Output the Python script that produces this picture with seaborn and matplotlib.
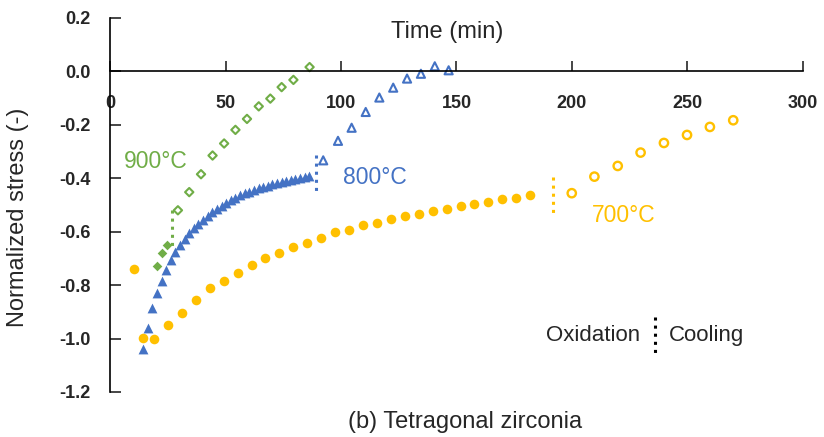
import numpy as np
import pandas as pd
import matplotlib
matplotlib.use('Agg')
import matplotlib.pyplot as plt
import seaborn as sns

### colours (Excel palette)
green = '#70AD47'
blue = '#4472C4'
yellow = '#FFC000'

### 900C series: oxidation (filled) and cooling (open)
t900_ox = [20.5, 22.4, 24.5]
s900_ox = [-0.728, -0.679, -0.649]
t900_cool = [29.4, 34.3, 39.4, 44.4, 49.4, 54.3, 59.3, 64.4, 69.4, 74.3, 79.4, 86.4]
s900_cool = [-0.520, -0.452, -0.385, -0.315, -0.270, -0.219, -0.178, -0.131, -0.102, -0.059, -0.032, 0.016]

### 800C series
t800_ox = [14.3, 16.3, 18.3, 20.3, 22.3, 24.3, 26.3, 28.3, 30.3, 32.3, 34.3, 36.3, 38.3,
           40.3, 42.3, 44.3, 46.3, 48.3, 50.3, 52.3, 54.3, 56.3, 58.3, 60.3, 62.3, 64.3,
           66.3, 68.3, 70.3, 72.3, 74.3, 76.3, 78.3, 80.3, 82.3, 84.3, 86.3]
s800_ox = [-1.040, -0.960, -0.885, -0.830, -0.785, -0.742, -0.707, -0.677, -0.650, -0.627,
           -0.606, -0.588, -0.570, -0.555, -0.540, -0.527, -0.515, -0.503, -0.492, -0.482,
           -0.473, -0.464, -0.457, -0.450, -0.444, -0.438, -0.433, -0.428, -0.423, -0.418,
           -0.414, -0.410, -0.406, -0.402, -0.398, -0.394, -0.390]
t800_cool = [92.3, 98.7, 104.6, 110.7, 116.6, 122.6, 128.6, 134.6, 140.6, 146.6]
s800_cool = [-0.333, -0.260, -0.211, -0.152, -0.098, -0.061, -0.027, -0.009, 0.019, 0.004]

### 700C series
t700_ox = [10.2, 14.3, 19.2, 25.3, 31.2, 37.2, 43.1, 49.2, 55.3, 61.3, 67.2, 73.3, 79.4,
           85.4, 91.5, 97.5, 103.5, 109.5, 115.6, 121.6, 127.6, 133.6, 139.7, 145.8,
           151.8, 157.7, 163.8, 169.7, 175.8, 181.7]
s700_ox = [-0.740, -0.998, -1.000, -0.948, -0.905, -0.855, -0.812, -0.783, -0.755, -0.725,
           -0.700, -0.680, -0.658, -0.643, -0.622, -0.603, -0.592, -0.576, -0.569, -0.552,
           -0.542, -0.535, -0.522, -0.517, -0.505, -0.498, -0.490, -0.477, -0.475, -0.461]
t700_cool = [199.9, 209.7, 219.8, 229.7, 239.8, 249.8, 259.7, 269.8]
s700_cool = [-0.456, -0.394, -0.354, -0.304, -0.268, -0.238, -0.208, -0.183]

### oxidation/cooling separators (time, stress from, stress to)
cut900 = [26.7, -0.520, -0.654]
cut800 = [89.0, -0.314, -0.451]
cut700 = [191.9, -0.397, -0.532]
cut_legend = [235.9, -0.919, -1.056]

xticks = [0, 50, 100, 150, 200, 250, 300]
yticks = [0.2, 0.0, -0.2, -0.4, -0.6, -0.8, -1.0, -1.2]
ytick_labels = ['0.2', '0.0', '-0.2', '-0.4', '-0.6', '-0.8', '-1.0', '-1.2']

sns.set_style('white')
plt.rcParams['font.family'] = ['Liberation Sans', 'DejaVu Sans']
plt.rcParams['axes.unicode_minus'] = False

fig = plt.figure(figsize=(8.24, 4.37), dpi=100)
ax = fig.add_axes([0.1335, 0.103, 0.841, 0.856])

## filled = oxidation, open = cooling
sns.scatterplot(x=t700_ox, y=s700_ox, ax=ax, marker='o', s=48, color=yellow, linewidth=0)
sns.scatterplot(x=t700_cool, y=s700_cool, ax=ax, marker='o', s=36,
                facecolors='none', edgecolors=yellow, linewidths=1.7)
sns.scatterplot(x=t800_ox, y=s800_ox, ax=ax, marker='^', s=50, color=blue, linewidth=0)
sns.scatterplot(x=t800_cool, y=s800_cool, ax=ax, marker='^', s=34,
                facecolors='none', edgecolors=blue, linewidths=1.5)
sns.scatterplot(x=t900_ox, y=s900_ox, ax=ax, marker='D', s=24, color=green, linewidth=0)
sns.scatterplot(x=t900_cool, y=s900_cool, ax=ax, marker='D', s=18,
                facecolors='none', edgecolors=green, linewidths=1.5)

for cut, col in [(cut900, green), (cut800, blue), (cut700, yellow), (cut_legend, 'black')]:
    ax.plot([cut[0], cut[0]], [cut[1], cut[2]], ls=':', lw=2.2, color=col)

ax.text(19.9, -0.336, '900°C', color=green, fontsize=16.5, ha='center', va='center')
ax.text(114.7, -0.396, '800°C', color=blue, fontsize=16.5, ha='center', va='center')
ax.text(222.2, -0.538, '700°C', color=yellow, fontsize=16.5, ha='center', va='center')
ax.text(229.4, -0.99, 'Oxidation', fontsize=16, ha='right', va='center')
ax.text(242.1, -0.99, 'Cooling', fontsize=16, ha='left', va='center')

ax.set_xlim(0, 300)
ax.set_ylim(-1.2, 0.2)
ax.spines['bottom'].set_position(('data', 0))
ax.spines['top'].set_visible(False)
ax.spines['right'].set_visible(False)
for sp in ['left', 'bottom']:
    ax.spines[sp].set_color('black')
    ax.spines[sp].set_linewidth(1.2)

ax.set_xticks(xticks)
ax.set_yticks(yticks)
ax.set_yticklabels(ytick_labels)
ax.tick_params(axis='x', direction='in', length=7, width=1.2, pad=17, labelsize=13)
ax.tick_params(axis='y', direction='in', length=8, width=1.2, pad=14, labelsize=13)
ax.xaxis.set_ticks_position('bottom')
ax.yaxis.set_ticks_position('left')
for lab in ax.get_xticklabels() + ax.get_yticklabels():
    lab.set_fontweight('bold')

ax.set_xlabel('Time (min)', fontsize=17)
ax.xaxis.set_label_coords(0.486, 0.992)
ax.set_ylabel('Normalized stress (-)', fontsize=17)
ax.yaxis.set_label_coords(-0.117, 0.467)

fig.text(0.565, 0.035, '(b) Tetragonal zirconia', fontsize=17, ha='center', va='center')

fig.savefig('out.png', dpi=100)
